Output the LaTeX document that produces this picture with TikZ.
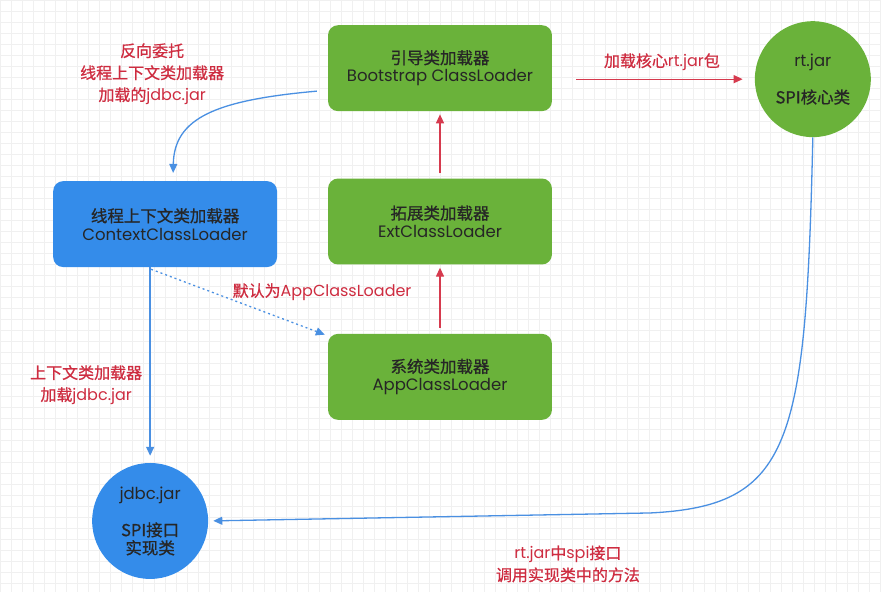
\documentclass[tikz,border=0pt]{standalone}
\usepackage{fontspec}
\setmainfont{Poppins}
\newfontfamily\zh[FakeBold=0.8]{Noto Sans CJK SC}
\usetikzlibrary{positioning,calc,arrows.meta}
\definecolor{jvmgreen}{RGB}{106,178,58}
\definecolor{ctxblue}{RGB}{52,140,234}
\definecolor{lineblue}{RGB}{74,144,226}
\definecolor{linered}{RGB}{214,58,78}
\definecolor{txtred}{RGB}{206,44,64}
\definecolor{gridgray}{RGB}{240,240,240}

\begin{document}
\begin{tikzpicture}[x=1pt,y=-1pt,font=\fontsize{16.5}{18}\selectfont,>={Triangle[length=9pt,width=8pt]},
    b/.style={rounded corners=10pt,align=center,minimum width=224pt,minimum height=86pt,text=black!85},
    ball/.style={circle,align=center,minimum size=116pt,inner sep=0pt,text=black!85},
    lbl/.style={text=txtred,align=center,font=\fontsize{16}{22}\selectfont},
    bl/.style={draw=lineblue,line width=1.3pt,->},
    rd/.style={draw=linered,line width=1.3pt,->}]
  \fill[white] (0,0) rectangle (881,592);
  \draw[gridgray,line width=0.4pt,step=11pt] (0,0) grid (881,592);
  \useasboundingbox (0,0) rectangle (881,592);

  % loaders
  \node[b,fill=jvmgreen] (boot) at (440,68) {{\zh 引导类加载器}\\Bootstrap ClassLoader};
  \node[b,fill=jvmgreen,below=67pt of boot] (ext) {{\zh 拓展类加载器}\\ExtClassLoader};
  \node[b,fill=jvmgreen,below=69pt of ext] (app) {{\zh 系统类加载器}\\AppClassLoader};
  \node[b,fill=ctxblue] (ctx) at (165,224) {{\zh 线程上下文类加载器}\\ContextClassLoader};
  \node[ball,fill=jvmgreen] (rt) at (813,79) {rt.jar\\[18pt]{\zh SPI核心类}};
  \node[ball,fill=ctxblue] (jdbc) at (150,521) {jdbc.jar\\[18pt]{\zh SPI接口}\\{\zh 实现类}};

  % labels
  \node[lbl] (lblrev) at (152,74) {{\zh 反向委托}\\{\zh 线程上下文类加载器}\\{\zh 加载的}jdbc.jar};
  \node[lbl] (lblrt) at (662,62) {{\zh 加载核心}rt.jar{\zh 包}};
  \node[lbl] (lbldef) at (322,292) {{\zh 默认为}AppClassLoader};
  \node[lbl] (lblctx) at (86,385) {{\zh 上下文类加载器}\\{\zh 加载}jdbc.jar};
  \node[lbl] (lblcall) at (568,564) {rt.jar{\zh 中}spi{\zh 接口}\\{\zh 调用实现类中的方法}};

  % parent delegation
  \draw[rd,shorten <=24pt,shorten >=12pt] (boot.east |- rt.west) -- (rt.west);
  \draw[rd,shorten <=5pt,shorten >=3pt] (ext.north) -- (boot.south);
  \draw[rd,shorten <=6pt,shorten >=3pt] (app.north) -- (ext.south);

  % context loader
  \draw[bl,shorten <=11pt] ($(boot.west)+(0,22)$) .. controls (215,100) and (174,118) .. ($(ctx.north)+(8,-8)$);
  \draw[bl,shorten >=7pt] (jdbc.north |- ctx.south) -- (jdbc.north);
  \draw[bl,dash pattern=on 2pt off 3pt] ($(jdbc.north |- ctx.south)+(1,2)$) -- ($(app.north west)+(-3,1)$);
  \draw[bl,shorten >=5pt] (rt.south) .. controls (806,445) and (792,506) .. (650,513) -- (jdbc.east);
\end{tikzpicture}
\end{document}
